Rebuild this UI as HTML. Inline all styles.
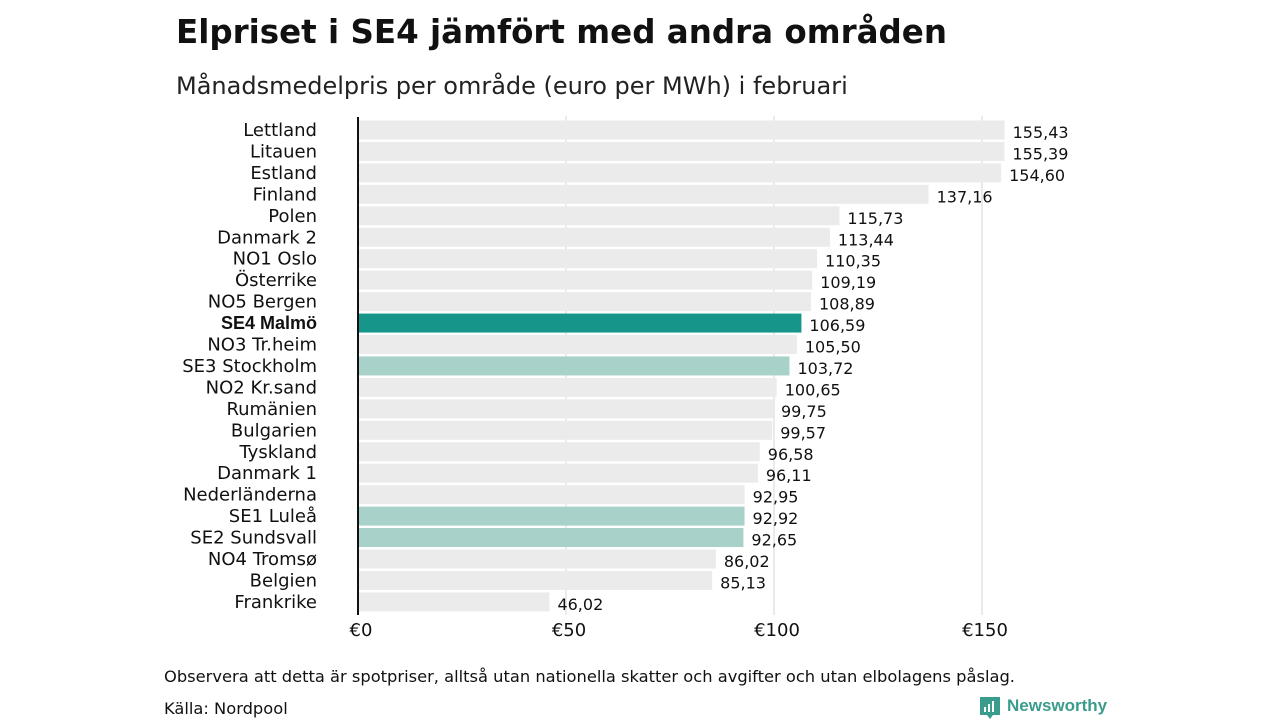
<!DOCTYPE html>
<html><head><meta charset="utf-8"><style>
body{margin:0;background:#fff;width:1280px;height:720px;overflow:hidden;font-family:"DejaVu Sans","Liberation Sans",sans-serif;}
</style></head><body>
<svg width="1280" height="720" xmlns="http://www.w3.org/2000/svg">
<text x="176" y="43" font-size="32.5" font-weight="bold" fill="#111" font-family="'DejaVu Sans','Liberation Sans',sans-serif">Elpriset i SE4 jämfört med andra områden</text>
<text x="176" y="94" font-size="24" fill="#222">Månadsmedelpris per område (euro per MWh) i februari</text>
<g id="grid"></g>
<g id="bars"></g>
<line x1="358" y1="117" x2="358" y2="615" stroke="#111" stroke-width="2"/>
<text x="164" y="682" font-size="16.3" fill="#111">Observera att detta är spotpriser, alltså utan nationella skatter och avgifter och utan elbolagens påslag.</text>
<text x="164" y="714" font-size="16.3" fill="#111">Källa: Nordpool</text>
<g>
<path d="M980 697 h20 v18 h-7 l-3 4 l-3 -4 h-7 z" fill="#3a9c8c"/>
<rect x="984" y="707" width="2" height="5" fill="#fff"/><rect x="988" y="704" width="2" height="8" fill="#fff"/><rect x="992" y="701" width="2" height="11" fill="#fff"/>
<text x="1007" y="711" font-size="17" font-weight="bold" fill="#3a9c8c" font-family="'Liberation Sans',sans-serif">Newsworthy</text>
</g>
</svg>
<script>
const categories=["Lettland","Litauen","Estland","Finland","Polen","Danmark 2","NO1 Oslo","Österrike","NO5 Bergen","SE4 Malmö","NO3 Tr.heim","SE3 Stockholm","NO2 Kr.sand","Rumänien","Bulgarien","Tyskland","Danmark 1","Nederländerna","SE1 Luleå","SE2 Sundsvall","NO4 Tromsø","Belgien","Frankrike"];
const values=[155.43,155.39,154.60,137.16,115.73,113.44,110.35,109.19,108.89,106.59,105.50,103.72,100.65,99.75,99.57,96.58,96.11,92.95,92.92,92.65,86.02,85.13,46.02];
const ticks=[0,50,100,150];
const tickLabels=["€0","€50","€100","€150"];
const NS="http://www.w3.org/2000/svg";
const x=v=>358+v*4.16;
const y=i=>130+i*21.45;
function mk(t,a,p){const e=document.createElementNS(NS,t);for(const k in a)e.setAttribute(k,a[k]);p.appendChild(e);return e;}
const grid=document.getElementById('grid'),bars=document.getElementById('bars');
ticks.forEach((t,i)=>{
 if(t>0){const l=mk('line',{x1:x(t),x2:x(t),y1:116,y2:615,stroke:'#d6d6d6','stroke-width':1},grid);
 
 }
 const tx=mk('text',{x:x(t)+3,y:636,'font-size':18,'text-anchor':'middle',fill:'#111'},grid);
 tx.textContent=tickLabels[i];
 
 
});
categories.forEach((c,i)=>{
 let col='#ebebeb';
 if(c==="SE4 Malmö")col='#16958a';
 else if(c.startsWith("SE"))col='#a7d1c9';
 const r=mk('rect',{x:359,y:y(i)-9.5,width:x(values[i])-359,height:19,fill:col},bars);
 
 
 const lb=mk('text',{x:317,y:y(i)+6,'font-size':18,'text-anchor':'end',fill:'#111'},bars);
 if(c==="SE4 Malmö"){lb.setAttribute('font-weight','bold');lb.setAttribute('font-family','Liberation Sans,sans-serif');}
 lb.textContent=c;
 
 
 const vl=mk('text',{x:x(values[i])+8,y:y(i)+8,'font-size':16,fill:'#111'},bars);
 vl.textContent=values[i].toFixed(2).replace('.',',');
 
 
});
</script>
</body></html>
